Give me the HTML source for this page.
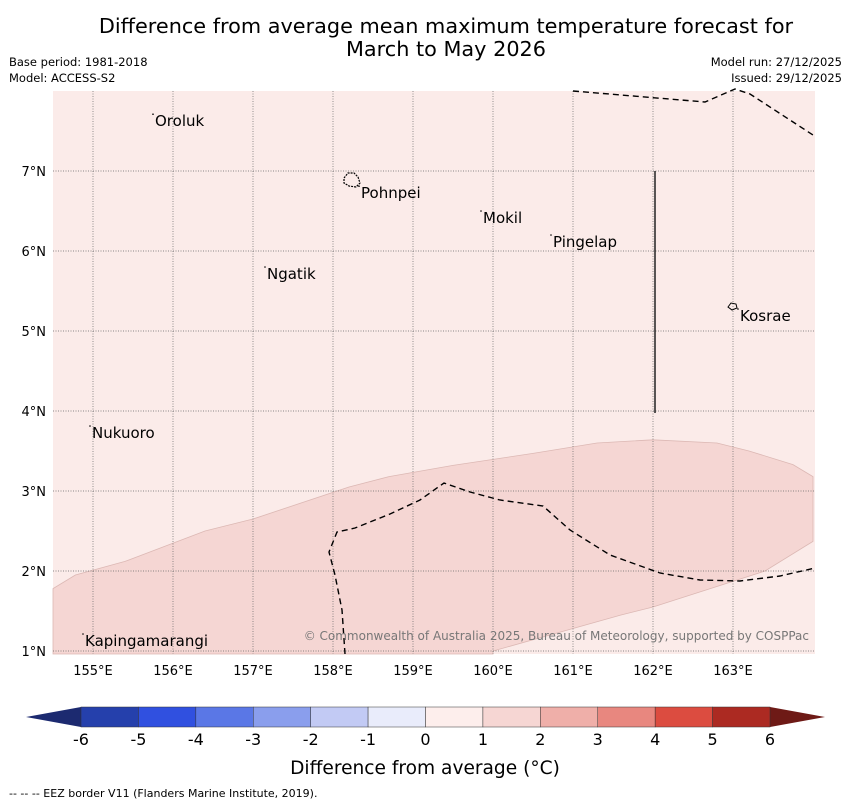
<!DOCTYPE html>
<html><head><meta charset="utf-8">
<style>
body{margin:0;background:#fff;width:850px;height:804px;overflow:hidden;font-family:"DejaVu Sans","Liberation Sans",sans-serif;}
svg{position:absolute;left:0;top:0}
</style></head><body>
<svg id="chart" width="850" height="804" viewBox="0 0 850 804">
<text x="446" y="33" text-anchor="middle" font-size="20.8" fill="#000">Difference from average mean maximum temperature forecast for</text>
<text x="446" y="56" text-anchor="middle" font-size="20.8" fill="#000">March to May 2026</text>
<text x="9" y="66" font-size="11.5">Base period: 1981-2018</text>
<text x="9" y="82" font-size="11.5">Model: ACCESS-S2</text>
<text x="842" y="66" font-size="11.5" text-anchor="end">Model run: 27/12/2025</text>
<text x="842" y="82" font-size="11.5" text-anchor="end">Issued: 29/12/2025</text>
<g id="map"></g>
<g id="cbar"></g>
<text x="425" y="774" text-anchor="middle" font-size="18.6">Difference from average (°C)</text>
<text x="9" y="797" font-size="11">--  --  -- EEZ border V11 (Flanders Marine Institute, 2019).</text>
</svg>
<script>
const lonTicks=[155,156,157,158,159,160,161,162,163];
const latTicks=[1,2,3,4,5,6,7];
const shadeLon=[154.5,154.78,155.4,156.4,157,157.6,158.2,158.7,159.5,160.5,161.3,162,162.8,163.2,163.75,164,164,163.4,162,161.6,160];
const shadeLat=[1.78,1.95,2.12,2.5,2.65,2.85,3.05,3.18,3.32,3.47,3.6,3.64,3.6,3.5,3.33,3.18,2.37,2.0,1.55,1.45,1.0];
const islands=["Oroluk","Pohnpei","Mokil","Pingelap","Ngatik","Kosrae","Nukuoro","Kapingamarangi"];
const islandLon=[155.775,158.35,159.875,160.75,157.175,163.0875,154.9875,154.9];
const islandLat=[7.56,6.66,6.35,6.05,5.65,5.125,3.6625,1.0625];
const cbLevels=[-6,-5,-4,-3,-2,-1,0,1,2,3,4,5,6];
const cbColors=["#2540ac","#3050e0","#5a77e6","#8a9eed","#c2caf4","#e9ecfb","#fdeeec","#f6d6d3","#efafa9","#e8877f","#dc4c40","#ac2a22"];
const NS="http://www.w3.org/2000/svg";
const X0=53,X1=815,Y0=91,Y1=654;
const px=lon=>93+(lon-155)*80, py=lat=>171+(7-lat)*80;
function mk(t,a,p){const e=document.createElementNS(NS,t);for(const k in a)e.setAttribute(k,a[k]);p.appendChild(e);return e;}
const map=document.getElementById('map');
let r=mk('rect',{x:X0,y:Y0,width:X1-X0,height:Y1-Y0,fill:'#fbebe9'},map);


let pts=shadeLon.map((l,i)=>px(l)+','+Math.min(Y1,py(shadeLat[i]))).join(' ');
pts+=' '+px(160)+','+Y1+' '+X0+','+Y1;
let sh=mk('polygon',{points:pts,fill:'#f5d6d3',stroke:'#dcb8b4','stroke-width':0.8},map);


lonTicks.forEach(l=>{
 let g=mk('line',{x1:px(l),x2:px(l),y1:Y0,y2:Y1,stroke:'#666','stroke-width':0.7,'stroke-dasharray':'1,1.5'},map);
 
 
 let t=mk('text',{x:px(l),y:675,'text-anchor':'middle','font-size':13},map);t.textContent=l+'°E';
 
 
});
latTicks.forEach(l=>{
 let g=mk('line',{x1:X0,x2:X1,y1:py(l),y2:py(l),stroke:'#666','stroke-width':0.7,'stroke-dasharray':'1,1.5'},map);
 
 
 let t=mk('text',{x:46,y:py(l)+5,'text-anchor':'end','font-size':13},map);t.textContent=l+'°N';
 
 
});
const eez1=[[573,91],[705,102],[735,89],[750,94],[813,135]];
const eez2=[[345,654],[342,610],[335,575],[329,552],[337,532],[355,528],[390,514],[420,500],[444,483],[470,492],[500,500],[543,506],[570,530],[610,555],[660,573],[700,580],[740,581],[780,576],[815,568]];
[eez1,eez2].forEach(a=>{let p=mk('polyline',{points:a.map(q=>q.join(',')).join(' '),fill:'none',stroke:'#000','stroke-width':1.4,'stroke-dasharray':'6,4'},map);
 
 });
let sl=mk('line',{x1:655,x2:655,y1:171,y2:413,stroke:'#222','stroke-width':1.5},map);


let pon=mk('path',{d:'M344,178 l4,-5 l6,0 l4,4 l2,6 l-4,4 l-7,-1 l-5,-3z',fill:'none',stroke:'#000','stroke-width':1.2,'stroke-dasharray':'2,1'},map);


let kos=mk('path',{d:'M728,307 l3,-4 l5,1 l1,4 l-5,2z',fill:'none',stroke:'#000','stroke-width':1},map);


islands.forEach((n,i)=>{
 let d=mk('circle',{cx:px(islandLon[i])-2,cy:py(islandLat[i])-12,r:0.8,fill:'#000'},map);
 
 
 let t=mk('text',{x:px(islandLon[i]),y:py(islandLat[i]),'font-size':15},map);t.textContent=n;
 
 
});
let cp=mk('text',{x:809,y:640,'text-anchor':'end','font-size':12,fill:'#777'},map);
cp.textContent='© Commonwealth of Australia 2025, Bureau of Meteorology, supported by COSPPac';


const cb=document.getElementById('cbar');
const cx=v=>81+(v+6)*(689/12), CY0=707, CY1=727;
let lt=mk('polygon',{points:`26,717 81,${CY0} 81,${CY1}`,fill:'#1c2a70'},cb);


let rt=mk('polygon',{points:`825,717 770,${CY0} 770,${CY1}`,fill:'#6e1a16'},cb);


cbColors.forEach((c,i)=>{let b=mk('rect',{x:cx(cbLevels[i]),y:CY0,width:cx(cbLevels[i+1])-cx(cbLevels[i]),height:CY1-CY0,fill:c,stroke:'#333','stroke-width':0.5},cb);
 
 });
cbLevels.forEach(v=>{let t=mk('text',{x:cx(v),y:745,'text-anchor':'middle','font-size':16},cb);t.textContent=v;
 
 });
</script>
</body></html>
